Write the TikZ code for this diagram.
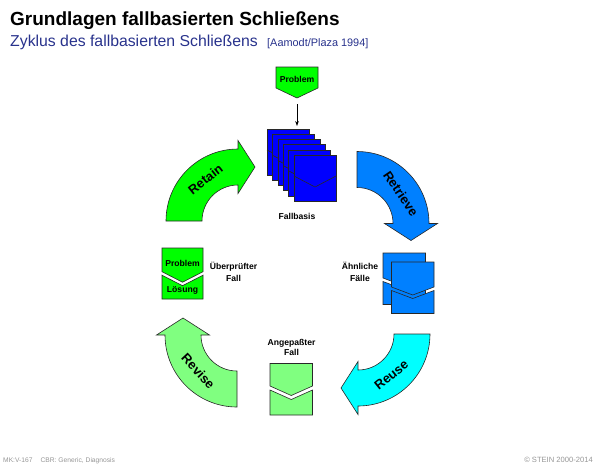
\documentclass[tikz,border=0pt]{standalone}
\usepackage{fontspec}
\setmainfont{Liberation Sans}
\usetikzlibrary{calc,arrows.meta}

\definecolor{cgreen}{RGB}{0,255,0}
\definecolor{clgreen}{RGB}{128,255,128}
\definecolor{cblue}{RGB}{0,0,255}
\definecolor{cmblue}{RGB}{0,128,255}
\definecolor{ccyan}{RGB}{0,255,255}
\definecolor{subblue}{RGB}{40,50,140}
\definecolor{edgegray}{RGB}{40,40,40}
\definecolor{footgray}{RGB}{150,150,150}

% case icon parameters
\tikzset{
  case w/.store in=\casew, case h/.store in=\caseh,
  case a/.store in=\casea, case d/.store in=\cased,
  case g/.store in=\caseg, case fill/.store in=\casefill,
  case w=42, case h=46, case a=21, case d=11, case g=3.5, case fill=white,
  shape outline/.style={draw=edgegray, line width=0.6pt, line join=miter},
  % a case split into problem part and solution part
  splitcase/.pic={
    \draw[shape outline, fill=\casefill] (0,0) -- (\casew,0) -- (\casew,\casea)
      -- ({\casew/2},{\casea+\cased}) -- (0,\casea) -- cycle;
    \draw[shape outline, fill=\casefill] (0,{\casea+\caseg})
      -- ({\casew/2},{\casea+\cased+\caseg}) -- (\casew,{\casea+\caseg})
      -- (\casew,\caseh) -- (0,\caseh) -- cycle;
  },
  % a single sheet of the case base
  casesheet/.pic={
    \draw[shape outline, fill=\casefill] (0,0) rectangle (\casew,\caseh);
    \draw[shape outline] (0,\casea) -- ({\casew/2},{\casea+\cased}) -- (\casew,\casea);
  },
}

% thick quarter-circle arrow of the CBR cycle
\newcommand\cyclearrow[4]{%
  \draw[shape outline, fill=#4]
    ($(#1)+(#2:72)$) arc[start angle=#2, end angle=#3, radius=72]
    -- ($(#1)+(#3:80.5)$)
    -- ($(#1)+(#3:54)+(#3+90:17)$)
    -- ($(#1)+(#3:27.5)$)
    -- ($(#1)+(#3:36)$) arc[start angle=#3, end angle=#2, radius=36]
    -- cycle;}

\begin{document}
\begin{tikzpicture}[x=1pt,y=-1pt,
  lbl/.style={font=\fontsize{8.6}{12}\selectfont\bfseries, align=center, inner sep=0pt},
  arrowlbl/.style={font=\fontsize{13}{15}\selectfont\bfseries, inner sep=0pt},
]
\useasboundingbox (0,0) rectangle (600,467);

% headings
\node[anchor=base west, inner sep=0pt, font=\fontsize{19}{22}\selectfont\bfseries]
  (title) at (10,25) {Grundlagen fallbasierten Schließens};
\node[anchor=base west, inner sep=0pt, text=subblue, font=\fontsize{15.8}{18}\selectfont]
  (subtitle) at (10,46.5) {Zyklus des fallbasierten Schließens};
\node[anchor=base west, inner sep=0pt, text=subblue, font=\fontsize{10.9}{12}\selectfont]
  (source) at (267,46.5) {[Aamodt/Plaza 1994]};

% new problem
\draw[shape outline, fill=cgreen] (276,67) -- (318,67) -- (318,88) -- (297,98) -- (276,88) -- cycle;
\node[lbl] (problem) at (297,79) {Problem};
\coordinate (problemout) at (297,104);
\coordinate (basein) at (297,126);
\draw[line width=0.6pt, -{Stealth[length=5pt,width=3.6pt]}] (problemout) -- (basein);

% case base
\foreach \i in {0,...,5}
  \pic[case fill=cblue, case w=42, case h=46, case a=21, case d=11]
    at ({267+5.4*\i},{129+5.2*\i}) {casesheet};
\node[lbl] (fallbasis) at (297,216) {Fallbasis};

% retrieved similar cases
\pic[case fill=cmblue, case w=42.5, case h=51.5, case a=25, case d=8, case g=3.5] at (383,253) {splitcase};
\pic[case fill=cmblue, case w=42.5, case h=51.5, case a=25, case d=8, case g=3.5] at (391.5,262) {splitcase};
\node[lbl] (aehnlich) at (360,271.5) {Ähnliche\\Fälle};

% adapted case
\pic[case fill=clgreen, case w=42.5, case h=51.5, case a=22.5, case d=9.5, case g=4] at (270,363.5) {splitcase};
\node[lbl, font=\fontsize{8.6}{10.5}\selectfont\bfseries] (angepasst) at (291.5,347.5) {Angepaßter\\Fall};

% verified case
\pic[case fill=cgreen, case w=41, case h=51, case a=23.7, case d=10.5, case g=3.5] at (162,248) {splitcase};
\node[lbl] (vproblem) at (182.5,263.5) {Problem};
\node[lbl] (vloesung) at (182.5,290) {Lösung};
\node[lbl] (geprueft) at (233.5,271.5) {Überprüfter\\Fall};

% the four steps of the cycle
\coordinate (retainc) at (238,221);
\coordinate (retrievec) at (357,223.5);
\coordinate (reusec) at (358,334);
\coordinate (revisec) at (237,335);
\cyclearrow{retainc}{180}{270}{cgreen}
\cyclearrow{retrievec}{270}{360}{cmblue}
\cyclearrow{reusec}{0}{90}{ccyan}
\cyclearrow{revisec}{90}{180}{clgreen}
\node[arrowlbl, rotate=38] (retain) at ($(retainc)+(232:53)$) {Retain};
\node[arrowlbl, rotate=-56] (retrieve) at ($(retrievec)+(326:53)$) {Retrieve};
\node[arrowlbl, rotate=39] (reuse) at ($(reusec)+(51:53)$) {Reuse};
\node[arrowlbl, rotate=-47] (revise) at ($(revisec)+(137:53)$) {Revise};

% footer
\node[anchor=base west, inner sep=0pt, text=footgray, font=\fontsize{6.7}{8}\selectfont]
  (footleft) at (3,462) {MK:V-167\hspace{8pt}CBR: Generic, Diagnosis};
\node[anchor=base east, inner sep=0pt, text=footgray, font=\fontsize{7.6}{9}\selectfont]
  (footright) at (593,462) {© STEIN 2000-2014};
\end{tikzpicture}
\end{document}
